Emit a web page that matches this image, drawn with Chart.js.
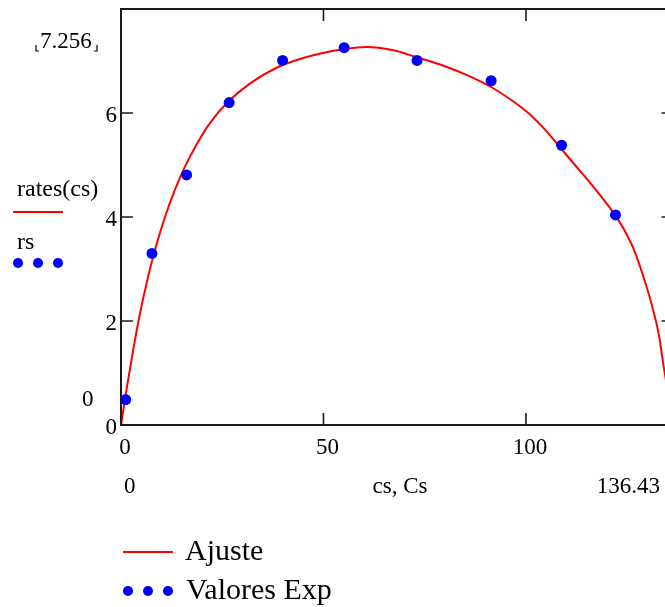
<!DOCTYPE html>
<html>
<head>
<meta charset="utf-8">
<script src="https://cdn.jsdelivr.net/npm/chart.js@4/dist/chart.umd.min.js"></script>
<style>
  html, body { margin: 0; padding: 0; background: #fff; overflow: hidden; }
  #wrap { position: absolute; left: 0; top: 0; width: 690px; height: 607px; }
</style>
</head>
<body>
<div id="wrap"><canvas id="chart" width="690" height="607"></canvas></div>
<script>
// fitted curve rates(cs)
const cs = [0, 1.4, 3.0, 4.7, 6.3, 8.4, 10.9, 13.3, 15.8, 18.7, 22.0, 26.5, 31.9, 38.4, 43.4, 49, 55.1, 60.7, 67, 73.1, 80, 86, 91.4, 96, 98.5, 101, 104.7, 108.4, 112, 115.8, 119, 121.6, 124, 126.5, 129, 131, 132.8, 134.1, 136.43];
const rates = [0, 0.70, 1.44, 2.15, 2.72, 3.37, 4.01, 4.52, 4.97, 5.40, 5.81, 6.22, 6.57, 6.87, 7.02, 7.14, 7.23, 7.27, 7.21, 7.07, 6.90, 6.71, 6.50, 6.27, 6.13, 5.97, 5.68, 5.34, 5.01, 4.66, 4.35, 4.08, 3.79, 3.40, 2.85, 2.33, 1.74, 1.08, 0];

// experimental values
const Cs = [1.16, 7.65, 16.2, 26.7, 39.9, 55.1, 73.1, 91.4, 108.8, 122.1];
const rs = [0.49, 3.30, 4.81, 6.20, 7.01, 7.256, 7.01, 6.62, 5.38, 4.04];

const xTicks = [0, 50, 100];
const yTicks = [0, 2, 4, 6];
const xMax = 136.43;
const yMax = 8;

const serif = "'Liberation Serif', 'Times New Roman', serif";

const mathcadPlugin = {
    id: 'mathcad',
    afterDatasetsDraw(chart) {
        const {ctx, chartArea: a, scales} = chart;
        ctx.save();

        // frame
        ctx.strokeStyle = '#1a1a1a';
        ctx.lineWidth = 2;
        ctx.strokeRect(a.left, a.top, a.right - a.left, a.bottom - a.top);

        // inward ticks on all four sides
        ctx.lineWidth = 1.6;
        ctx.beginPath();
        for (const v of xTicks) {
            const px = scales.x.getPixelForValue(v);
            ctx.moveTo(px, a.bottom); ctx.lineTo(px, a.bottom - 12);
            ctx.moveTo(px, a.top); ctx.lineTo(px, a.top + 12);
        }
        for (const v of yTicks) {
            const py = scales.y.getPixelForValue(v);
            ctx.moveTo(a.left, py); ctx.lineTo(a.left + 12, py);
            ctx.moveTo(a.right, py); ctx.lineTo(a.right - 12, py);
        }
        ctx.stroke();

        // limit labels and axis names
        ctx.fillStyle = '#000';
        ctx.font = '23px ' + serif;
        ctx.textBaseline = 'alphabetic';
        ctx.textAlign = 'left';
        ctx.fillText('7.256', 40, 48);
        ctx.fillText('0', 82, 406);
        ctx.fillText('0', 124, 493);
        ctx.textAlign = 'center';
        ctx.fillText('cs, Cs', 400, 493);
        ctx.textAlign = 'right';
        ctx.fillText('136.43', 660, 493);
        ctx.textAlign = 'left';
        ctx.font = '24px ' + serif;
        ctx.fillText('rates(cs)', 17, 196);
        ctx.fillText('rs', 17, 249);

        // placeholder brackets around 7.256
        ctx.lineWidth = 1.2;
        ctx.strokeStyle = '#000';
        ctx.beginPath();
        ctx.moveTo(36, 45); ctx.lineTo(36, 51); ctx.lineTo(39, 51);
        ctx.moveTo(97, 45); ctx.lineTo(97, 51); ctx.lineTo(94, 51);
        ctx.stroke();

        // y-side legend
        ctx.strokeStyle = '#ff0000';
        ctx.lineWidth = 2;
        ctx.beginPath();
        ctx.moveTo(13, 212); ctx.lineTo(63, 212);
        ctx.stroke();
        ctx.fillStyle = '#0000ff';
        for (const dx of [18, 38, 58]) {
            ctx.beginPath(); ctx.arc(dx, 263, 5, 0, Math.PI * 2); ctx.fill();
        }

        // bottom legend
        ctx.beginPath();
        ctx.moveTo(123, 552); ctx.lineTo(173, 552);
        ctx.stroke();
        for (const dx of [128, 148, 168]) {
            ctx.beginPath(); ctx.arc(dx, 591, 5, 0, Math.PI * 2); ctx.fill();
        }
        ctx.fillStyle = '#000';
        ctx.textAlign = 'left';
        ctx.font = '30px ' + serif;
        ctx.fillText('Ajuste', 185, 560);
        ctx.fillText('Valores Exp', 186, 599);

        ctx.restore();
    }
};

const ctx = document.getElementById('chart').getContext('2d');
new Chart(ctx, {
    type: 'scatter',
    data: {
        datasets: [{
            label: 'Ajuste',
            data: cs.map((c, i) => ({x: c, y: rates[i]})),
            showLine: true,
            borderColor: '#ff0000',
            borderWidth: 2,
            pointRadius: 0,
            cubicInterpolationMode: 'monotone',
            order: 2
        }, {
            label: 'Valores Exp',
            data: Cs.map((c, i) => ({x: c, y: rs[i]})),
            showLine: false,
            backgroundColor: '#0000ff',
            borderColor: '#0000ff',
            pointRadius: 5.5,
            pointBorderWidth: 0,
            order: 1
        }]
    },
    options: {
        responsive: false,
        devicePixelRatio: 1,
        animation: false,
        layout: {padding: {left: 0, top: 9, right: 16.5, bottom: 0}},
        plugins: {legend: {display: false}, tooltip: {enabled: false}},
        scales: {
            x: {
                type: 'linear',
                min: 0,
                max: xMax,
                afterBuildTicks: s => { s.ticks = xTicks.map(v => ({value: v})); },
                afterFit: s => { s.height = 182; s.paddingLeft = 0; s.paddingRight = 0; },
                grid: {display: false, drawTicks: false},
                border: {display: false},
                ticks: {
                    color: '#000',
                    font: {family: serif, size: 23},
                    padding: 9,
                    labelOffset: 4,
                    maxRotation: 0,
                    autoSkip: false
                }
            },
            y: {
                type: 'linear',
                min: 0,
                max: yMax,
                afterBuildTicks: s => { s.ticks = yTicks.map(v => ({value: v})); },
                afterFit: s => { s.width = 121; s.paddingTop = 0; s.paddingBottom = 0; },
                grid: {display: false, drawTicks: false},
                border: {display: false},
                ticks: {
                    color: '#000',
                    font: {family: serif, size: 23},
                    padding: 4,
                    labelOffset: 3,
                    autoSkip: false
                }
            }
        }
    },
    plugins: [mathcadPlugin]
});
</script>
</body>
</html>
